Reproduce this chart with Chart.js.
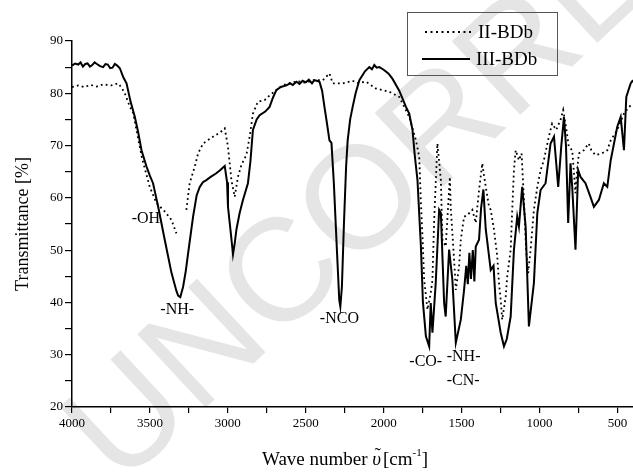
<!DOCTYPE html>
<html>
<head>
<meta charset="utf-8">
<script src="https://cdn.jsdelivr.net/npm/chart.js@4.4.1/dist/chart.umd.min.js"></script>
<style>
    html, body { margin: 0; padding: 0; background: #fff; }
    .chart-container { position: relative; width: 633px; height: 474px; }
</style>
</head>
<body>
<div class="chart-container"><canvas id="grafica-ftir"></canvas></div>
<script>
//Series II-BDb (dotted)
const iiWavenumber = [4000, 3960, 3920, 3880, 3840, 3800, 3750, 3704, 3680, 3661, 3630, 3607, 3580, 3550, 3501, 3458, 3405, 3362, 3330, 3300,
    3266, 3245, 3212, 3191, 3159, 3095, 3050, 3020, 2999, 2988, 2977, 2956, 2935, 2913, 2881, 2860, 2839, 2807, 2764, 2732,
    2689, 2650, 2600, 2550, 2500, 2450, 2391, 2348, 2327, 2263, 2200, 2170, 2113, 2049, 1964, 1900, 1836, 1793, 1772, 1761,
    1750, 1740, 1719, 1698, 1687, 1676, 1655, 1633, 1623, 1602, 1580, 1575, 1570, 1548, 1537, 1516, 1505, 1484, 1463, 1431,
    1409, 1388, 1367, 1355, 1324, 1313, 1292, 1271, 1260, 1249, 1239, 1217, 1207, 1185, 1175, 1164, 1153, 1132, 1115, 1100,
    1086, 1073, 1057, 1036, 1014, 993, 972, 940, 919, 893, 865, 848, 830, 812, 790, 780, 769, 759, 747, 716,
    684, 667, 641, 600, 565, 543, 501, 458, 426, 400];
const iiTransmittance = [81.2, 81.5, 81.2, 81.6, 81.3, 81.7, 81.5, 81.9, 81.0, 80.0, 77.5, 76.2, 72.0, 67.5, 62.1, 59.0, 57.4, 55.8, 53.2, null,
    57.7, 62.8, 66.0, 68.5, 70.4, 71.7, 72.5, 73.3, 69.8, 66.6, 63.4, 60.2, 64.0, 66.3, 68.2, 71.7, 76.1, 78.4, 78.7, 79.6,
    80.6, 81.5, 82.0, 82.3, 82.0, 82.5, 82.5, 83.8, 81.9, 81.9, 82.4, 82.0, 82.2, 80.9, 80.3, 79.3, 75.5, 71.0, 67.9, 59.0,
    52.0, 44.3, 38.6, 41.8, 44.3, 55.8, 70.4, 63.4, 52.0, 50.7, 61.5, 64.0, 58.3, 48.2, 42.4, 46.9, 52.0, 56.4, 56.7, 57.7,
    55.2, 61.5, 66.6, 64.0, 58.3, 57.7, 53.9, 48.8, 43.7, 40.5, 36.7, 41.1, 45.0, 50.1, 57.7, 65.3, 69.1, 67.2, 68.5, 59.6,
    50.1, 45.6, 50.1, 57.7, 62.1, 65.3, 67.2, 71.7, 74.2, 73.0, 74.9, 76.8, 73.6, 69.8, 69.1, 65.3, 60.9, 65.3, 68.5, 69.1,
    70.4, 69.1, 68.2, 68.5, 69.1, 71.0, 73.0, 76.1, 77.4, 78.0];

//Series III-BDb (solid)
const iiiWavenumber = [4000, 3980, 3960, 3945, 3930, 3915, 3900, 3885, 3870, 3855, 3840, 3820, 3800, 3785, 3770, 3755, 3740, 3725, 3710, 3693,
    3670, 3650, 3625, 3597, 3575, 3554, 3522, 3500, 3480, 3447, 3405, 3362, 3330, 3319, 3305, 3287, 3270, 3255, 3223, 3200,
    3180, 3160, 3138, 3110, 3074, 3050, 3020, 3005, 2999, 2980, 2967, 2955, 2945, 2925, 2903, 2871, 2855, 2839, 2815, 2796,
    2760, 2732, 2710, 2689, 2660, 2625, 2600, 2583, 2560, 2540, 2520, 2500, 2480, 2460, 2445, 2430, 2412, 2395, 2380, 2365,
    2348, 2335, 2320, 2300, 2285, 2278, 2268, 2255, 2241, 2231, 2215, 2199, 2180, 2156, 2120, 2092, 2075, 2060, 2045, 2028,
    2000, 1970, 1944, 1900, 1857, 1836, 1815, 1800, 1783, 1761, 1748, 1729, 1708, 1698, 1687, 1666, 1644, 1633, 1612, 1602,
    1580, 1559, 1537, 1505, 1484, 1470, 1460, 1450, 1440, 1428, 1418, 1409, 1388, 1375, 1360, 1345, 1313, 1295, 1281, 1249,
    1228, 1210, 1185, 1164, 1143, 1132, 1111, 1089, 1068, 1036, 1014, 993, 961, 929, 907, 880, 860, 843, 830, 816,
    801, 790, 769, 752, 737, 705, 673, 651, 619, 587, 565, 543, 501, 479, 458, 443, 415, 400];
const iiiTransmittance = [85.3, 85.7, 85.5, 85.9, 85.1, 85.6, 85.7, 85.1, 85.4, 85.9, 85.6, 85.2, 85.0, 85.6, 85.5, 84.8, 84.9, 85.6, 85.3, 84.8,
    83.0, 81.9, 78.5, 75.5, 72.5, 69.1, 66.0, 64.2, 62.8, 58.3, 52.0, 45.7, 42.2, 41.3, 41.0, 43.0, 46.0, 49.4, 56.4, 60.5,
    62.1, 63.0, 63.4, 64.0, 64.7, 65.3, 66.1, 63.0, 58.3, 53.0, 49.2, 51.5, 53.9, 57.0, 59.6, 62.8, 67.0, 73.0, 75.0, 75.8,
    76.5, 77.4, 79.2, 80.6, 81.2, 81.5, 81.9, 81.6, 82.2, 81.8, 82.4, 82.1, 82.6, 81.9, 82.5, 82.4, 82.2, 80.5, 77.4, 74.5,
    71.0, 70.5, 63.0, 50.0, 40.5, 39.2, 43.0, 55.0, 66.0, 71.0, 75.0, 77.4, 80.0, 82.5, 84.2, 85.0, 84.6, 85.4, 84.9, 85.0,
    84.5, 83.8, 82.8, 80.5, 77.4, 76.1, 73.0, 68.0, 63.4, 50.7, 40.0, 33.5, 31.6, 39.9, 34.2, 43.7, 57.7, 57.1, 39.9, 37.3,
    50.1, 44.3, 32.3, 36.7, 42.4, 47.0, 43.5, 49.5, 44.5, 50.0, 44.0, 50.7, 52.0, 58.0, 61.6, 54.0, 46.2, 47.0, 39.9, 34.2,
    31.6, 33.0, 37.3, 50.1, 56.4, 54.5, 62.1, 54.5, 35.4, 43.7, 57.1, 61.5, 62.8, 70.4, 71.7, 62.1, 70.0, 75.5, 70.0, 55.2,
    66.6, 62.1, 50.1, 65.3, 64.0, 62.8, 60.2, 58.3, 59.6, 62.8, 62.1, 67.2, 73.6, 75.5, 69.1, 79.3, 81.9, 82.5];

//Ticks
const xTickValues = [4000, 3750, 3500, 3250, 3000, 2750, 2500, 2250, 2000, 1750, 1500, 1250, 1000, 750, 500];
const yTickValues = [20, 25, 30, 35, 40, 45, 50, 55, 60, 65, 70, 75, 80, 85, 90];

//Band labels
const bandLabels = ['-OH', '-NH-', '-NCO', '-CO-', '-NH-', '-CN-'];
const bandWavenumber = [3526, 3325, 2284, 1730, 1487, 1490];
const bandTransmittance = [56.0, 38.6, 36.9, 28.7, 29.6, 25.0];

const serif = '"Liberation Serif", "DejaVu Serif", serif';

document.addEventListener('DOMContentLoaded', function() {
    createFtirChart();
});

function toPoints(xs, ys) {
    return xs.map((x, i) => ({ x: x, y: ys[i] }));
}

//Watermark, band labels, x title and legend box
const extrasPlugin = {
    id: 'extras',
    beforeDraw(chart) {
        const ctx = chart.ctx;
        ctx.save();
        ctx.translate(120, 488);
        ctx.rotate(-43 * Math.PI / 180);
        ctx.font = '146px "Liberation Sans", Arial, sans-serif';
        ctx.fillStyle = '#e5e5e5';
        ctx.textBaseline = 'alphabetic';
        ctx.fillText('UNCORRECTED', 0, 0);
        ctx.restore();
    },
    afterDatasetsDraw(chart) {
        const ctx = chart.ctx;
        const xs = chart.scales.x;
        const ys = chart.scales.y;
        ctx.save();
        ctx.fillStyle = '#000';
        ctx.font = '16px ' + serif;
        ctx.textAlign = 'center';
        ctx.textBaseline = 'middle';
        bandLabels.forEach((txt, i) => {
            ctx.fillText(txt, xs.getPixelForValue(bandWavenumber[i]), ys.getPixelForValue(bandTransmittance[i]));
        });

        //X axis title, built piece by piece for the tilde and superscript
        ctx.textAlign = 'left';
        ctx.textBaseline = 'alphabetic';
        ctx.font = '19px ' + serif;
        let x = 262;
        const base = 465;
        ctx.fillText('Wave number ', x, base);
        x += ctx.measureText('Wave number ').width;
        ctx.font = 'italic 19px ' + serif;
        ctx.fillText('\u03C5', x, base);
        const w = ctx.measureText('\u03C5').width;
        ctx.font = '19px ' + serif;
        ctx.fillText('\u02DC', x + w / 2 - ctx.measureText('\u02DC').width / 2 + 1, base - 4);
        x += w + 2;
        ctx.fillText('[cm', x, base);
        x += ctx.measureText('[cm').width;
        ctx.font = '11px ' + serif;
        ctx.fillText('-1', x, base - 9);
        x += ctx.measureText('-1').width;
        ctx.font = '19px ' + serif;
        ctx.fillText(']', x, base);

        //Legend
        ctx.strokeStyle = '#555';
        ctx.lineWidth = 1;
        ctx.strokeRect(407.5, 12.5, 150, 63);
        ctx.strokeStyle = '#000';
        ctx.lineWidth = 2;
        ctx.setLineDash([2, 3.5]);
        ctx.beginPath();
        ctx.moveTo(425, 32);
        ctx.lineTo(472, 32);
        ctx.stroke();
        ctx.setLineDash([]);
        ctx.beginPath();
        ctx.moveTo(422, 59);
        ctx.lineTo(470, 59);
        ctx.stroke();
        ctx.font = '19px ' + serif;
        ctx.textBaseline = 'middle';
        ctx.fillText('II-BDb', 478, 33);
        ctx.fillText('III-BDb', 476, 60);
        ctx.restore();
    }
};

function createFtirChart() {
    const ctx = document.getElementById('grafica-ftir').getContext('2d');
    new Chart(ctx, {
        type: 'line',
        data: {
            datasets: [{
                label: 'II-BDb',
                data: toPoints(iiWavenumber, iiTransmittance),
                borderColor: '#000',
                borderWidth: 1.8,
                borderDash: [1.8, 3.2],
                pointRadius: 0,
                tension: 0,
                spanGaps: false
            }, {
                label: 'III-BDb',
                data: toPoints(iiiWavenumber, iiiTransmittance),
                borderColor: '#000',
                borderWidth: 2,
                pointRadius: 0,
                tension: 0
            }]
        },
        options: {
            responsive: true,
            maintainAspectRatio: false,
            animation: false,
            layout: { padding: { top: 41, right: 0, left: 0, bottom: 0 } },
            plugins: {
                legend: { display: false },
                tooltip: { enabled: false }
            },
            scales: {
                x: {
                    type: 'linear',
                    reverse: true,
                    min: 400,
                    max: 4000,
                    afterFit: scale => { scale.height = 67; },
                    afterBuildTicks: scale => { scale.ticks = xTickValues.map(v => ({ value: v })); },
                    border: { color: '#000', width: 1.5 },
                    grid: { drawOnChartArea: false, drawTicks: true, tickLength: 6, color: '#000', lineWidth: 1.2 },
                    ticks: {
                        autoSkip: false,
                        maxRotation: 0,
                        color: '#000',
                        padding: 3,
                        font: { family: serif, size: 13 },
                        callback: v => (v % 500 === 0 ? String(v) : '')
                    }
                },
                y: {
                    min: 20,
                    max: 90,
                    afterFit: scale => { scale.width = 72; },
                    afterBuildTicks: scale => { scale.ticks = yTickValues.map(v => ({ value: v })); },
                    border: { color: '#000', width: 1.5 },
                    grid: { drawOnChartArea: false, drawTicks: true, tickLength: 7, color: '#000', lineWidth: 1.2 },
                    ticks: {
                        autoSkip: false,
                        color: '#000',
                        padding: 2,
                        font: { family: serif, size: 13 },
                        callback: v => (v % 10 === 0 ? String(v) : '')
                    },
                    title: {
                        display: true,
                        text: 'Transmittance [%]',
                        color: '#000',
                        font: { family: serif, size: 18 },
                        padding: { top: 12, bottom: 0 }
                    }
                }
            }
        },
        plugins: [extrasPlugin]
    });
}
</script>
</body>
</html>
